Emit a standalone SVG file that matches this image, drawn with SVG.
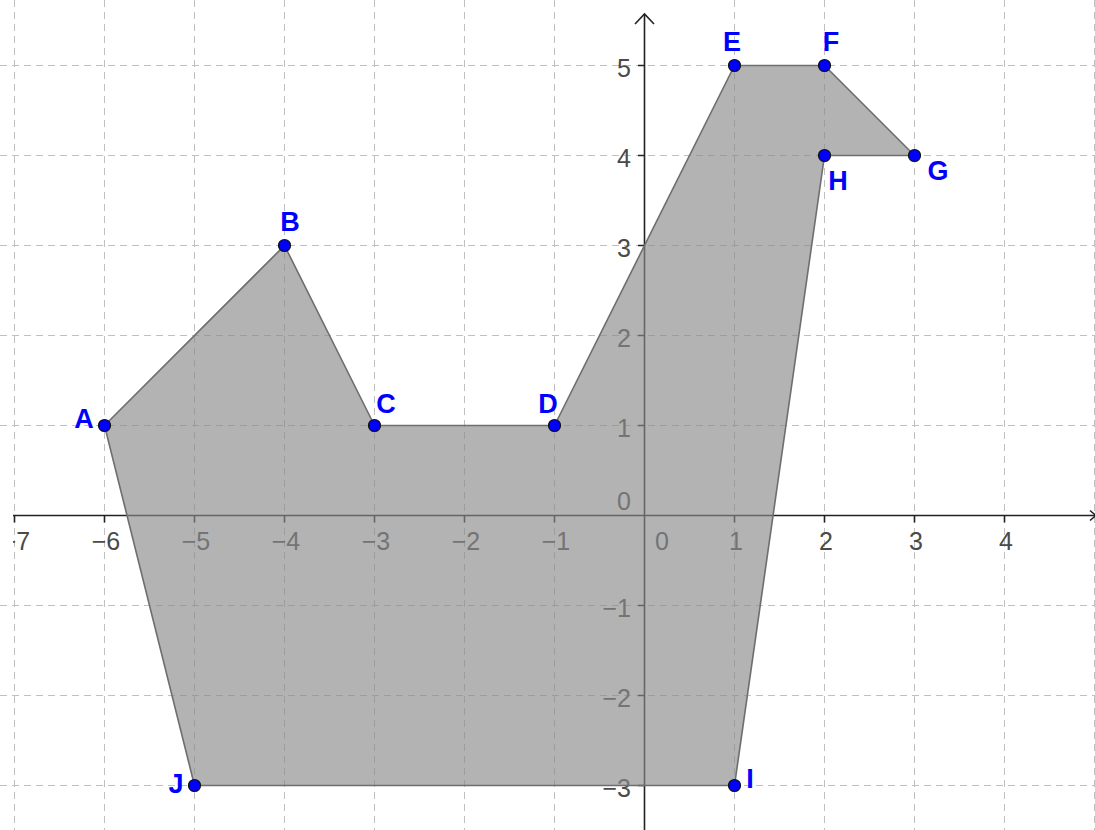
<svg xmlns="http://www.w3.org/2000/svg" width="1095" height="830" viewBox="0 0 1095 830">
<style>
.grid{stroke:#c0c0c0;stroke-width:1;stroke-dasharray:7 5;fill:none}
.axis{stroke:#222;stroke-width:1.6;fill:none}
.num{font-family:"Liberation Sans",Arial,sans-serif;font-size:25px;fill:#4a4a4a}
.nx{text-anchor:middle}
.ny{text-anchor:end}
.pt{fill:#0000ff;stroke:#111;stroke-width:1.2}
.lbl{font-family:"Liberation Sans",Arial,sans-serif;font-size:27px;font-weight:bold;fill:#0000ff;text-anchor:middle}
</style>
<defs>
<clipPath id="clipL"><rect x="13" y="0" width="1082" height="830"/></clipPath>
</defs>
<rect width="1095" height="830" fill="#fff"/>
<g id="grid" class="grid">
<path d="M14.5 0V830M104.5 0V830M194.5 0V830M284.5 0V830M374.5 0V830M464.5 0V830M554.5 0V830M734.5 0V830M824.5 0V830M914.5 0V830M1004.5 0V830M1094.5 0V830"/>
<path d="M0 65.5H1095M0 155.5H1095M0 245.5H1095M0 335.5H1095M0 425.5H1095M0 605.5H1095M0 695.5H1095M0 785.5H1095"/>
</g>
<g id="axes" class="axis">
<path d="M13 515.5H1095"/>
<path d="M644.5 14V830"/>
<path d="M635 24L644.5 14L654 24"/>
<path d="M1090 510.5L1096 515.5L1090 520.5"/>
<path d="M14.5 515.5v7M104.5 515.5v7M194.5 515.5v7M284.5 515.5v7M374.5 515.5v7M464.5 515.5v7M554.5 515.5v7M734.5 515.5v7M824.5 515.5v7M914.5 515.5v7M1004.5 515.5v7"/>
<path d="M638 65.5h6.5M638 155.5h6.5M638 245.5h6.5M638 335.5h6.5M638 425.5h6.5M638 605.5h6.5M638 695.5h6.5M638 785.5h6.5"/>
</g>
<g id="axis-numbers" class="num">
<text class="nx" x="16" y="550" clip-path="url(#clipL)">−7</text>
<text class="nx" x="106" y="550">−6</text>
<text class="nx" x="196" y="550">−5</text>
<text class="nx" x="286" y="550">−4</text>
<text class="nx" x="376" y="550">−3</text>
<text class="nx" x="466" y="550">−2</text>
<text class="nx" x="556" y="550">−1</text>
<text class="nx" x="662" y="550">0</text>
<text class="nx" x="736" y="550">1</text>
<text class="nx" x="826" y="550">2</text>
<text class="nx" x="916" y="550">3</text>
<text class="nx" x="1006" y="550">4</text>
<text class="ny" x="631" y="77">5</text>
<text class="ny" x="631" y="167">4</text>
<text class="ny" x="631" y="257">3</text>
<text class="ny" x="631" y="347">2</text>
<text class="ny" x="631" y="437">1</text>
<text class="ny" x="631" y="510">0</text>
<text class="ny" x="631" y="617">−1</text>
<text class="ny" x="631" y="707">−2</text>
<text class="ny" x="631" y="797">−3</text>
</g>
<g id="polygon">
<polygon points="104.5,425.5 284.5,245.5 374.5,425.5 554.5,425.5 734.5,65.5 824.5,65.5 914.5,155.5 824.5,155.5 734.5,785.5 194.5,785.5" fill="#8a8a8a" fill-opacity="0.65" stroke="#6e6e6e" stroke-width="1.6" stroke-linejoin="round"/>
</g>
<g id="connectors"></g>
<g id="A"><circle class="pt" cx="104.5" cy="425.5" r="6"/><text class="lbl" x="84" y="428">A</text></g>
<g id="B"><circle class="pt" cx="284.5" cy="245.5" r="6"/><text class="lbl" x="290" y="231">B</text></g>
<g id="C"><circle class="pt" cx="374.5" cy="425.5" r="6"/><text class="lbl" x="386" y="413">C</text></g>
<g id="D"><circle class="pt" cx="554.5" cy="425.5" r="6"/><text class="lbl" x="548" y="413">D</text></g>
<g id="E"><circle class="pt" cx="734.5" cy="65.5" r="6"/><text class="lbl" x="732" y="51">E</text></g>
<g id="F"><circle class="pt" cx="824.5" cy="65.5" r="6"/><text class="lbl" x="831" y="51">F</text></g>
<g id="G"><circle class="pt" cx="914.5" cy="155.5" r="6"/><text class="lbl" x="938" y="180">G</text></g>
<g id="H"><circle class="pt" cx="824.5" cy="155.5" r="6"/><text class="lbl" x="838" y="190">H</text></g>
<g id="I"><circle class="pt" cx="734.5" cy="785.5" r="6"/><text class="lbl" x="750" y="788">I</text></g>
<g id="J"><circle class="pt" cx="194.5" cy="785.5" r="6"/><text class="lbl" x="176" y="793">J</text></g>
</svg>
